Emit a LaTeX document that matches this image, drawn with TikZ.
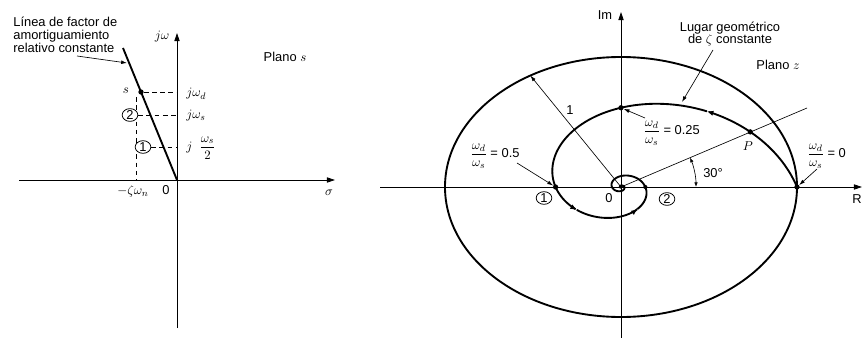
\documentclass[tikz,border=0pt]{standalone}
\usepackage{amsmath}
\usepackage{fontspec}
\setmainfont{Liberation Sans}
\usetikzlibrary{arrows.meta,shapes.geometric}
\begin{document}
\begin{tikzpicture}[x=0.03cm,y=-0.03cm,
  every node/.style={font=\fontsize{11}{11}\selectfont, inner sep=1pt},
  axis/.style={line width=0.65pt, -{Triangle[length=7pt,width=4.5pt]}},
  pointer/.style={line width=0.55pt, -{Latex[length=5pt,width=3.2pt]}},
  heavy/.style={line width=1.6pt},
  dashln/.style={line width=0.6pt, dash pattern=on 4pt off 3pt},
  numc/.style={draw, ellipse, fill=white, line width=0.65pt, minimum width=0.47cm, minimum height=0.38cm, inner sep=0pt},
  dot/.style={circle, fill, inner sep=0pt, minimum size=4.5pt},
  sparrow/.style={-{Latex[length=5.5pt,width=4.5pt]}}
]
\useasboundingbox (0,0) rectangle (863,338);

% ---------------- left panel: s plane ----------------
\coordinate (O1) at (177,180);
\coordinate (jtop) at (177,33);
\coordinate (jbot) at (177,328);
\coordinate (sl) at (19,180);
\coordinate (sr) at (335,180);
\draw[axis] (jbot) -- (jtop);
\draw[axis] (sl) -- (sr);
\coordinate (Ltop) at (123,48);
\coordinate (vtop) at (136.5,97);
\coordinate (vbot) at (136.5,180);
\draw[dashln] (vtop) -- (vbot);
\draw[heavy] (O1) -- (Ltop);
\node[dot] (s) at (141,92) {};
\node[numc] (c2) at (130,115) {2};
\node[numc] (c1) at (143,147) {1};
\draw[dashln] (s) -- (s -| O1);
\draw[dashln] (c2.east) -- (c2 -| O1);
\draw[dashln] (c1.east) -- (c1 -| O1);
\node (slab) at (126,91) {$s$};
\node[anchor=west] (jwd) at (185,94) {$j\omega_d$};
\node[anchor=west] (jws) at (185,116) {$j\omega_s$};
\node[anchor=west] (jws2) at (185,148) {$j\;\;\dfrac{\omega_s}{2}$};
\node (jw) at (162,37) {$j\omega$};
\node (pls) at (285,57) {Plano $s$};
\node (zwn) at (133,191) {$-\zeta\omega_n$};
\node (z1) at (166,190) {0};
\node (sig) at (329,193) {$\sigma$};
\node[align=left, anchor=north west] (title) at (12,16) {Línea de factor de\\amortiguamiento\\relativo constante};
\coordinate (tA) at (77,56);
\coordinate (tB) at (127,63);
\draw[pointer] (tA) -- (tB);

% ---------------- right panel: z plane ----------------
\coordinate (O) at (621,187);
\coordinate (imtop) at (621,12);
\coordinate (imbot) at (621,338);
\coordinate (rel) at (380,187);
\coordinate (rer) at (862,187);
\draw[axis] (imbot) -- (imtop);
\draw[axis] (rel) -- (rer);
\draw[heavy] (O) ellipse [x radius=5.28cm, y radius=3.9cm];

% spiral of constant zeta
\draw[heavy, sparrow] plot[domain=0:50, samples=30, smooth]
  ({621+176*exp(-0.315*\x*pi/180)*cos(\x)}, {187-130*exp(-0.315*\x*pi/180)*sin(\x)});
\draw[heavy, sparrow] plot[domain=50:215, samples=80, smooth]
  ({621+176*exp(-0.315*\x*pi/180)*cos(\x)}, {187-130*exp(-0.315*\x*pi/180)*sin(\x)});
\draw[heavy, sparrow] plot[domain=215:299, samples=40, smooth]
  ({621+176*exp(-0.315*\x*pi/180)*cos(\x)}, {187-130*exp(-0.315*\x*pi/180)*sin(\x)});
\draw[heavy] plot[domain=299:1000, samples=300, smooth]
  ({621+176*exp(-0.315*\x*pi/180)*cos(\x)}, {187-130*exp(-0.315*\x*pi/180)*sin(\x)});

% special points
\node[dot] (zp1) at (797,187) {};
\node[dot] (P) at ({621+176*0.848*cos(30)}, {187-130*0.848*sin(30)}) {};
\node[dot] (q) at (621,{187-130*0.6097}) {};
\node[dot] (p1) at ({621-176*0.3717},187) {};
\node[dot, minimum size=3.5pt] (p2) at ({621+176*0.1382},187) {};

% 30 degree ray and angle
\coordinate (rayend) at (807,108);
\draw[line width=0.55pt] (O) -- (rayend);
\coordinate (a0) at (696,187);
\draw[line width=0.55pt, {Latex[length=4pt,width=3pt]}-{Latex[length=4pt,width=3pt]}] (a0) arc[start angle=0, end angle=23, radius=2.25cm];
\node (deg) at (713,173) {30°};

% unit radius
\coordinate (rad) at ({621+176*cos(121)}, {187-130*sin(121)});
\draw[pointer] (O) -- (rad);
\node (one) at (570,110) {1};

% labels
\node (Im) at (605,15) {Im};
\node (Re) at (857,199) {R};
\node (zero) at (609,198) {0};
\node[numc] (n1) at (544,198) {1};
\node[numc] (n2) at (667,199) {2};
\node (Plab) at (748,146) {$P$};
\node (pz) at (778,65) {Plano $z$};
\node[align=center] (lug) at (730,34) {Lugar geométrico\\de $\zeta$ constante};
\coordinate (lugA) at (713,50);
\coordinate (lugB) at (682,102);
\draw[pointer] (lugA) -- (lugB);

\node[anchor=west] (w25) at (642,133) {$\dfrac{\omega_d}{\omega_s}$ = 0.25};
\coordinate (w25A) at (645,118);
\draw[pointer] (w25A) -- (q);
\node[anchor=west] (w05) at (469,156) {$\dfrac{\omega_d}{\omega_s}$ = 0.5};
\coordinate (w05A) at (517,163);
\draw[pointer] (w05A) -- (p1);
\node[anchor=west] (w0) at (806,156) {$\dfrac{\omega_d}{\omega_s}$ = 0};
\coordinate (w0A) at (817,169);
\draw[pointer] (w0A) -- (zp1);
\end{tikzpicture}
\end{document}
